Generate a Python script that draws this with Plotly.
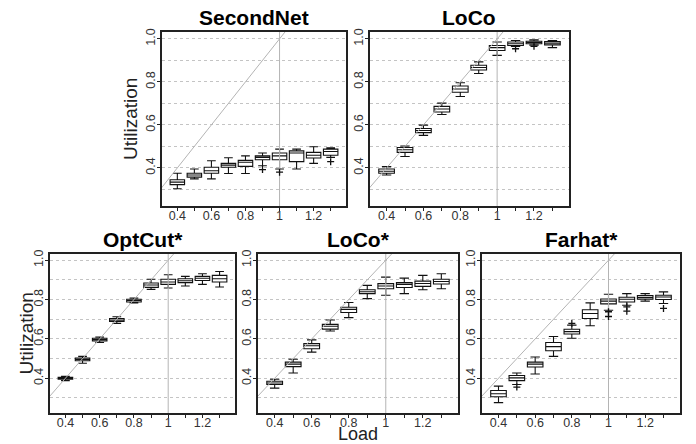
import plotly.graph_objects as go

W, H = 696, 444

loads = [0.4, 0.5, 0.6, 0.7, 0.8, 0.9, 1.0, 1.1, 1.2, 1.3]
x_tick_vals = [0.4, 0.5, 0.6, 0.7, 0.8, 0.9, 1.0, 1.1, 1.2, 1.3]
x_tick_text = ["0.4", "", "0.6", "", "0.8", "", "1", "", "1.2", ""]
y_tick_vals = [0.4, 0.6, 0.8, 1.0]
y_tick_text = ["0.4", "0.6", "0.8", "1.0"]
y_minor_vals = [0.3, 0.5, 0.7, 0.9]

# SecondNet
sn_q1 = [0.322, 0.357, 0.375, 0.403, 0.407, 0.438, 0.438, 0.429, 0.446, 0.459]
sn_med = [0.334, 0.367, 0.387, 0.413, 0.426, 0.449, 0.456, 0.469, 0.459, 0.476]
sn_q3 = [0.345, 0.375, 0.403, 0.421, 0.435, 0.456, 0.469, 0.479, 0.472, 0.487]
sn_lo = [0.303, 0.349, 0.349, 0.374, 0.374, 0.410, 0.395, 0.395, 0.421, 0.449]
sn_hi = [0.375, 0.395, 0.433, 0.447, 0.456, 0.469, 0.487, 0.487, 0.498, 0.493]
sn_out_x = [0.9, 1.0, 1.3]
sn_out_y = [0.392, 0.380, 0.429]

# LoCo
lc_q1 = [0.375, 0.472, 0.564, 0.660, 0.752, 0.855, 0.946, 0.969, 0.977, 0.972]
lc_med = [0.384, 0.484, 0.574, 0.674, 0.767, 0.867, 0.959, 0.977, 0.983, 0.980]
lc_q3 = [0.395, 0.495, 0.583, 0.686, 0.781, 0.877, 0.969, 0.985, 0.989, 0.988]
lc_lo = [0.367, 0.453, 0.551, 0.648, 0.732, 0.839, 0.923, 0.965, 0.971, 0.959]
lc_hi = [0.406, 0.502, 0.599, 0.701, 0.796, 0.893, 0.985, 0.992, 0.995, 0.992]
lc_out_x = [1.1, 1.2]
lc_out_y = [0.954, 0.965]

# OptCut*
oc_q1 = [0.395, 0.489, 0.590, 0.689, 0.788, 0.862, 0.877, 0.886, 0.897, 0.889]
oc_med = [0.400, 0.496, 0.597, 0.696, 0.795, 0.874, 0.889, 0.896, 0.908, 0.906]
oc_q3 = [0.405, 0.503, 0.603, 0.704, 0.802, 0.884, 0.903, 0.906, 0.918, 0.923]
oc_lo = [0.388, 0.476, 0.582, 0.679, 0.783, 0.852, 0.859, 0.869, 0.877, 0.864]
oc_hi = [0.410, 0.511, 0.610, 0.713, 0.808, 0.903, 0.926, 0.918, 0.931, 0.943]
oc_out_x = []
oc_out_y = []

# LoCo*
ls_q1 = [0.368, 0.459, 0.550, 0.650, 0.734, 0.830, 0.855, 0.861, 0.867, 0.879]
ls_med = [0.376, 0.472, 0.565, 0.664, 0.750, 0.840, 0.869, 0.877, 0.882, 0.892]
ls_q3 = [0.385, 0.482, 0.576, 0.674, 0.761, 0.850, 0.881, 0.886, 0.894, 0.903]
ls_lo = [0.350, 0.427, 0.533, 0.640, 0.708, 0.805, 0.822, 0.830, 0.850, 0.855]
ls_hi = [0.395, 0.497, 0.595, 0.696, 0.785, 0.872, 0.914, 0.909, 0.923, 0.931]
ls_out_x = []
ls_out_y = []

# Farhat*
fh_q1 = [0.306, 0.388, 0.457, 0.540, 0.625, 0.704, 0.778, 0.788, 0.802, 0.800]
fh_med = [0.321, 0.402, 0.472, 0.561, 0.637, 0.729, 0.792, 0.802, 0.810, 0.813]
fh_q3 = [0.338, 0.414, 0.482, 0.582, 0.649, 0.748, 0.803, 0.812, 0.820, 0.822]
fh_lo = [0.276, 0.368, 0.422, 0.511, 0.603, 0.667, 0.746, 0.771, 0.792, 0.780]
fh_hi = [0.360, 0.427, 0.508, 0.612, 0.670, 0.783, 0.827, 0.830, 0.830, 0.839]
fh_out_x = [0.5, 0.8, 1.0, 1.0, 1.1, 1.1, 1.3]
fh_out_y = [0.355, 0.679, 0.738, 0.714, 0.763, 0.741, 0.755]

panels = [
    dict(title="SecondNet", q1=sn_q1, med=sn_med, q3=sn_q3, lo=sn_lo, hi=sn_hi,
         ox=sn_out_x, oy=sn_out_y, px=(162, 346), py=(28, 204), ylab=True, ylx=131),
    dict(title="LoCo", q1=lc_q1, med=lc_med, q3=lc_q3, lo=lc_lo, hi=lc_hi,
         ox=lc_out_x, oy=lc_out_y, px=(370, 569), py=(28, 204), ylab=False, ylx=0),
    dict(title="OptCut*", q1=oc_q1, med=oc_med, q3=oc_q3, lo=oc_lo, hi=oc_hi,
         ox=oc_out_x, oy=oc_out_y, px=(50, 235), py=(252, 413), ylab=True, ylx=27),
    dict(title="LoCo*", q1=ls_q1, med=ls_med, q3=ls_q3, lo=ls_lo, hi=ls_hi,
         ox=ls_out_x, oy=ls_out_y, px=(258, 458), py=(252, 413), ylab=False, ylx=0),
    dict(title="Farhat*", q1=fh_q1, med=fh_med, q3=fh_q3, lo=fh_lo, hi=fh_hi,
         ox=fh_out_x, oy=fh_out_y, px=(482, 680), py=(252, 413), ylab=False, ylx=0),
]


def fx(sx):
    return sx / W


def fy(sy):
    return 1 - sy / H


FONT = "Liberation Sans, Arial, sans-serif"
fig = go.Figure()
annotations = []
layout = {}

for i, p in enumerate(panels):
    n = "" if i == 0 else str(i + 1)
    xa, ya = "x" + n, "y" + n
    # reference lines (y = x diagonal and x = 1)
    fig.add_trace(go.Scatter(x=[0.0, 1.5], y=[0.0, 1.5], mode="lines",
                             line=dict(color="#b4b4b4", width=1),
                             xaxis=xa, yaxis=ya, showlegend=False, hoverinfo="skip"))
    fig.add_trace(go.Scatter(x=[1.0, 1.0], y=[0.0, 1.5], mode="lines",
                             line=dict(color="#b4b4b4", width=1),
                             xaxis=xa, yaxis=ya, showlegend=False, hoverinfo="skip"))
    fig.add_trace(go.Box(x=loads, q1=p["q1"], median=p["med"], q3=p["q3"],
                         lowerfence=p["lo"], upperfence=p["hi"],
                         width=0.085, whiskerwidth=0.6,
                         fillcolor="white", line=dict(color="#111111", width=1.1),
                         boxpoints=False, xaxis=xa, yaxis=ya, showlegend=False))
    if p["ox"]:
        fig.add_trace(go.Scatter(x=p["ox"], y=p["oy"], mode="markers",
                                 marker=dict(symbol="cross-thin-open", size=5,
                                             color="#111111",
                                             line=dict(color="#111111", width=1.3)),
                                 xaxis=xa, yaxis=ya, showlegend=False))
    layout["xaxis" + n] = dict(
        domain=[fx(p["px"][0]), fx(p["px"][1])], range=[0.31, 1.39], anchor=ya,
        tickmode="array", tickvals=x_tick_vals, ticktext=x_tick_text,
        ticks="outside", ticklen=3, tickcolor="#222", tickwidth=1,
        ticklabelstandoff=-6,
        showgrid=False, zeroline=False,
        showline=True, mirror=True, linecolor="#222", linewidth=1.5,
        tickfont=dict(family=FONT, size=12.5, color="#333"),
    )
    layout["yaxis" + n] = dict(
        domain=[fy(p["py"][1]), fy(p["py"][0])], range=[0.222, 1.033], anchor=xa,
        tickmode="array", tickvals=y_tick_vals, ticktext=y_tick_text,
        tickangle=-90,
        ticks="outside", ticklen=3, tickcolor="#222", tickwidth=1,
        ticklabelstandoff=-3,
        showgrid=True, gridcolor="#c4c4c4", griddash="dot", gridwidth=1,
        minor=dict(tickvals=y_minor_vals, showgrid=True, gridcolor="#c4c4c4",
                   griddash="dot", gridwidth=1, ticks=""),
        zeroline=False,
        showline=True, mirror=True, linecolor="#222", linewidth=1.5,
        tickfont=dict(family=FONT, size=12.5, color="#333"),
    )
    cx = (p["px"][0] + p["px"][1]) / 2
    annotations.append(dict(text="<b>" + p["title"] + "</b>", x=fx(cx),
                            y=fy(p["py"][0] - 14), xref="paper", yref="paper",
                            xanchor="center", yanchor="middle", showarrow=False,
                            font=dict(family=FONT, size=21, color="black")))
    if p["ylab"]:
        annotations.append(dict(text="Utilization", x=fx(p["ylx"]),
                                y=fy((p["py"][0] + p["py"][1]) / 2),
                                xref="paper", yref="paper", textangle=-90,
                                xanchor="center", yanchor="middle", showarrow=False,
                                font=dict(family=FONT, size=19, color="#222")))

annotations.append(dict(text="Load", x=fx(358), y=fy(434), xref="paper", yref="paper",
                        xanchor="center", yanchor="middle", showarrow=False,
                        font=dict(family=FONT, size=18, color="#222")))

fig.update_layout(
    width=W, height=H, margin=dict(l=0, r=0, t=0, b=0),
    paper_bgcolor="white", plot_bgcolor="white",
    annotations=annotations, showlegend=False,
    **layout,
)

# Remove the browser's default 8px body margin so the figure fills the window.
fig.write_html("out.html", config={"displayModeBar": False},
               post_script="document.body.style.margin='0px';")
